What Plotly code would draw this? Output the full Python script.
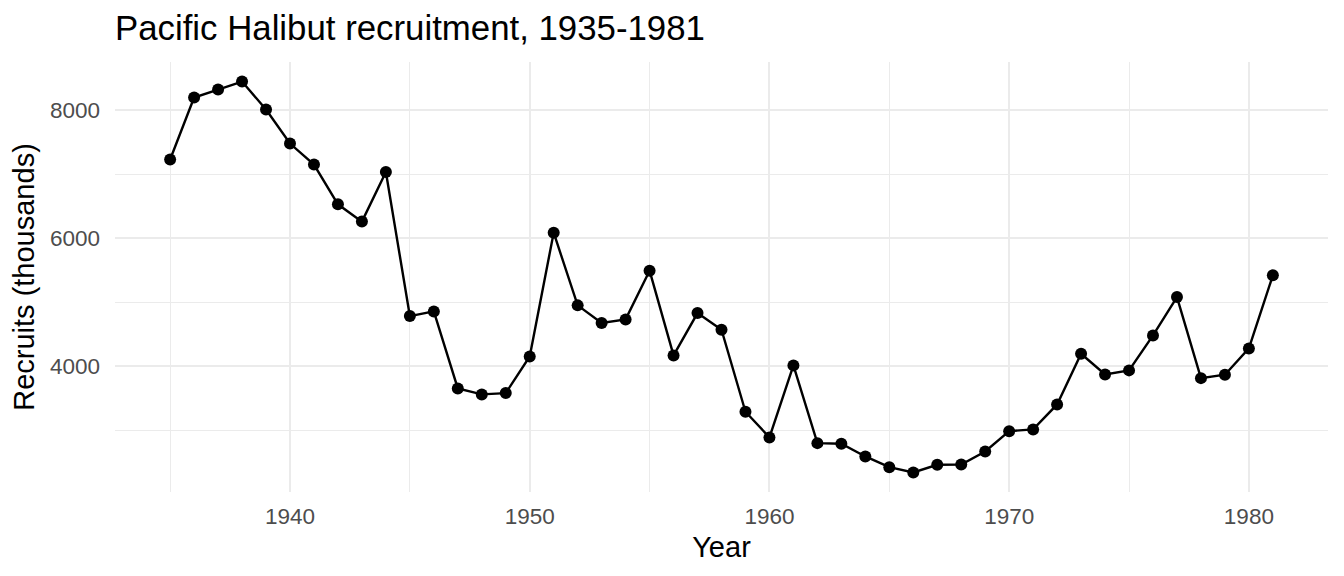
import plotly.graph_objects as go

# Pacific halibut recruits (thousands)
years = list(range(1935, 1982))
recruits = [
    7230, 8198, 8323, 8448, 8011, 7480, 7152, 6531, 6261, 7036,
    4786, 4859, 3656, 3563, 3583, 4156, 6088, 4953, 4677, 4734,
    5495, 4172, 4833, 4573, 3292, 2891, 4016, 2802, 2792, 2594,
    2427, 2344, 2464, 2469, 2672, 2989, 3016, 3406, 4198, 3875,
    3938, 4484, 5083, 3817, 3870, 4281, 5422,
]

x_ticks = [1940, 1950, 1960, 1970, 1980]
y_ticks = [4000, 6000, 8000]

fig = go.Figure()
fig.add_trace(go.Scatter(
    x=years, y=recruits, mode="lines+markers",
    line=dict(color="black", width=2.4),
    marker=dict(color="black", size=12),
    showlegend=False,
))

grid = "#EBEBEB"
family = "Liberation Sans, Arial, sans-serif"
tick_font = dict(family=family, size=22.5, color="#4D4D4D")
title_font = dict(family=family, size=29, color="black")

# the page body adds an 8px offset, so the figure is sized to fit inside it
fig.update_layout(
    width=1336, height=568,
    margin=dict(l=107, r=16, t=54, b=84),
    paper_bgcolor="white", plot_bgcolor="white",
    title=dict(
        text="Pacific Halibut recruitment, 1935-1981",
        font=dict(family=family, size=34.8, color="black"),
        x=0, xref="paper", xanchor="left",
        y=1 - 20 / 568, yref="container", yanchor="middle",
    ),
)

fig.update_xaxes(
    range=[1932.7, 1983.3],
    tickvals=x_ticks, ticktext=[str(v) for v in x_ticks],
    showgrid=True, gridcolor=grid, gridwidth=2.3,
    minor=dict(tick0=1935, dtick=10, showgrid=True, gridcolor=grid, gridwidth=1.2),
    zeroline=False, showline=False, ticks="",
    tickfont=tick_font, ticklabelstandoff=8, automargin=False,
    title=dict(text="Year", font=title_font, standoff=9),
)

fig.update_yaxes(
    range=[2039, 8753],
    tickvals=y_ticks, ticktext=[str(v) for v in y_ticks],
    showgrid=True, gridcolor=grid, gridwidth=2.3,
    minor=dict(tick0=3000, dtick=2000, showgrid=True, gridcolor=grid, gridwidth=1.2),
    zeroline=False, showline=False, ticks="",
    tickfont=tick_font, ticklabelstandoff=14, automargin=False,
    title=dict(text="Recruits (thousands)", font=title_font, standoff=8),
)

fig.write_html("out.html")
